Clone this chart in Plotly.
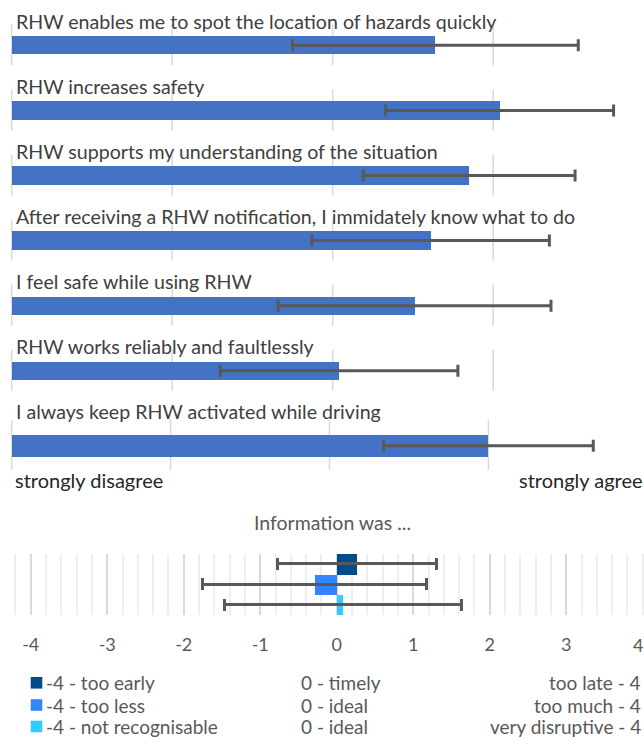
import plotly.graph_objects as go

W, H = 644, 747
FONT = "Lato"

# --- Agreement statements (1 = strongly disagree ... 5 = strongly agree) ---
statements = [
    "RHW enables me to spot the location of hazards quickly",
    "RHW increases safety",
    "RHW supports my understanding of the situation",
    "After receiving a RHW notification, I immidately know what to do",
    "I feel safe while using RHW",
    "RHW works reliably and faultlessly",
    "I always keep RHW activated while driving",
]
stmt_mean = [3.64, 4.04, 3.85, 3.61, 3.51, 3.04, 4.00]
stmt_sd = [0.89, 0.71, 0.66, 0.74, 0.85, 0.74, 0.66]
scale_left = "strongly disagree"
scale_right = "strongly agree"
likert_grid = [1, 2, 3, 4]

# --- "Information was ..." ratings (-4 .. 4) ---
info_title = "Information was ..."
info_low = ["-4 - too early", "-4 - too less", "-4 - not recognisable"]
info_mid = ["0 - timely", "0 - ideal", "0 - ideal"]
info_high = ["too late - 4", "too much - 4", "very disruptive - 4"]
info_mean = [0.27, -0.29, 0.08]
info_sd = [1.04, 1.46, 1.55]
info_colors = ["#004C8C", "#3385FF", "#33CCFF"]
info_ticks = [-4, -3, -2, -1, 0, 1, 2, 3, 4]

BAR = "#4472C4"
ERR = "#595959"
GRID = "#d9d9d9"
TICK_FONT = dict(family=FONT, size=18, color="#595959")


def py(px):
    """pixel row (from top) -> paper y"""
    return 1 - px / H


def pxx(px):
    return px / W


ROW = 65.1          # pixels per statement row
ROW0 = 45.3         # centre of first statement bar
TOP_END = 400       # bottom of the first panel (pixels)

fig = go.Figure()

# Statements 1-6 share one panel, the last one sits on its own panel
n_main = 6
rows = list(range(n_main))
fig.add_trace(go.Bar(
    orientation="h", y=rows, x=[m - 1 for m in stmt_mean[:n_main]], base=1,
    width=18.3 / ROW, marker=dict(color=BAR, line=dict(width=0)),
    xaxis="x", yaxis="y", showlegend=False, hoverinfo="skip"))
fig.add_trace(go.Scatter(
    x=stmt_mean[:n_main], y=rows, mode="markers",
    marker=dict(size=1, color="rgba(0,0,0,0)"),
    error_x=dict(type="data", array=stmt_sd[:n_main], color=ERR, thickness=3, width=6),
    xaxis="x", yaxis="y", showlegend=False, hoverinfo="skip"))

fig.add_trace(go.Bar(
    orientation="h", y=[0], x=[stmt_mean[6] - 1], base=1,
    width=21.7 / ROW, marker=dict(color=BAR, line=dict(width=0)),
    xaxis="x2", yaxis="y2", showlegend=False, hoverinfo="skip"))
fig.add_trace(go.Scatter(
    x=[stmt_mean[6]], y=[0], mode="markers",
    marker=dict(size=1, color="rgba(0,0,0,0)"),
    error_x=dict(type="data", array=[stmt_sd[6]], color=ERR, thickness=3, width=6),
    xaxis="x2", yaxis="y2", showlegend=False, hoverinfo="skip"))

# Information ratings
for i in range(3):
    fig.add_trace(go.Bar(
        orientation="h", y=[i], x=[info_mean[i]], width=1,
        marker=dict(color=info_colors[i], line=dict(width=0)),
        error_x=dict(type="data", array=[info_sd[i]], color=ERR, thickness=3, width=6),
        xaxis="x3", yaxis="y3", showlegend=False, hoverinfo="skip"))

shapes = []
# short vertical gridlines behind each statement bar
for r in rows:
    for v in likert_grid:
        shapes.append(dict(type="line", xref="x", yref="y", x0=v, x1=v,
                           y0=r - 21 / ROW, y1=r + 20 / ROW,
                           line=dict(color=GRID, width=1.5), layer="below"))
for v in likert_grid:
    shapes.append(dict(type="line", xref="x2", yref="y2", x0=v, x1=v,
                       y0=-26 / ROW, y1=24 / ROW,
                       line=dict(color=GRID, width=1.5), layer="below"))

# legend swatches
leg_rows = [682.8, 705.0, 726.5]
for c, col in zip(leg_rows, info_colors):
    shapes.append(dict(type="rect", xref="paper", yref="paper",
                       x0=pxx(30.7), x1=pxx(42.3), y0=py(c + 5.8), y1=py(c - 5.8),
                       fillcolor=col, line=dict(width=0)))

ann = []
label_font = dict(family=FONT, size=19.6, color="#404040")
for r, s in enumerate(statements[:n_main]):
    ann.append(dict(text=s, xref="paper", yref="y", x=pxx(13.5), y=r - 24 / ROW,
                    xanchor="left", yanchor="middle", showarrow=False, font=label_font))
ann.append(dict(text=statements[6], xref="paper", yref="y2", x=pxx(13.5), y=-34.5 / ROW,
                xanchor="left", yanchor="middle", showarrow=False, font=label_font))

scale_font = dict(family=FONT, size=20, color="#262626")
ann.append(dict(text=scale_left, xref="paper", yref="paper", x=pxx(13), y=py(480),
                xanchor="left", yanchor="middle", showarrow=False, font=scale_font))
ann.append(dict(text=scale_right, xref="paper", yref="paper", x=1, y=py(480),
                xanchor="right", yanchor="middle", showarrow=False, font=scale_font,
                borderpad=0))

ann.append(dict(text=info_title, xref="paper", yref="paper", x=pxx(332), y=py(522),
                xanchor="center", yanchor="middle", showarrow=False,
                font=dict(family=FONT, size=19.5, color="#595959")))

# the last tick label sits on the right border; keep it inside the page
last_tick = info_ticks[-1]
ann.append(dict(text=str(last_tick), xref="paper", yref="paper", x=1, y=py(645),
                xanchor="right", yanchor="middle", showarrow=False, font=TICK_FONT,
                borderpad=0))

leg_font = dict(family=FONT, size=19, color="#595959")
for c, lo, mi, hi in zip(leg_rows, info_low, info_mid, info_high):
    ann.append(dict(text=lo, xref="paper", yref="paper", x=pxx(44), y=py(c),
                    xanchor="left", yanchor="middle", showarrow=False, font=leg_font))
    ann.append(dict(text=mi, xref="paper", yref="paper", x=pxx(299), y=py(c),
                    xanchor="left", yanchor="middle", showarrow=False, font=leg_font))
    ann.append(dict(text=hi, xref="paper", yref="paper", x=pxx(643), y=py(c),
                    xanchor="right", yanchor="middle", showarrow=False, font=leg_font))

hidden = dict(showgrid=False, zeroline=False, showticklabels=False, ticks="", showline=False)

fig.update_layout(
    width=W, height=H, autosize=False,
    margin=dict(l=0, r=0, t=0, b=0),
    paper_bgcolor="white", plot_bgcolor="white",
    bargap=0, showlegend=False,
    font=dict(family=FONT),
    xaxis=dict(domain=[0, 1], range=[1 - 11.7 / 160.5, 1 + (W - 11.7) / 160.5], **hidden),
    yaxis=dict(domain=[py(TOP_END), 1],
               range=[(TOP_END - ROW0) / ROW, -ROW0 / ROW], **hidden),
    xaxis2=dict(domain=[0, 1], range=[1 - 11.7 / 158.9, 1 + (W - 11.7) / 158.9],
                anchor="y2", **hidden),
    yaxis2=dict(domain=[py(500), py(TOP_END)],
                range=[(500 - 445.8) / ROW, (TOP_END - 445.8) / ROW], anchor="x2", **hidden),
    xaxis3=dict(domain=[0, 1], range=[-4 - 30.7 / 76.5, 4 + (W - 642.7) / 76.5],
                anchor="y3", tickvals=info_ticks[:-1],
                ticktext=[str(t) for t in info_ticks[:-1]],
                showgrid=True, gridcolor=GRID, gridwidth=1.5,
                minor=dict(dtick=0.2, tick0=0, showgrid=True, gridcolor="#eeeeee", gridwidth=1.5),
                zeroline=False, ticks="", showline=False, ticklabelstandoff=17,
                tickfont=TICK_FONT),
    yaxis3=dict(domain=[py(615), py(553.5)], range=[2.5, -0.5], anchor="x3", **hidden),
    shapes=shapes,
    annotations=ann,
)

fig.write_html("out.html")
